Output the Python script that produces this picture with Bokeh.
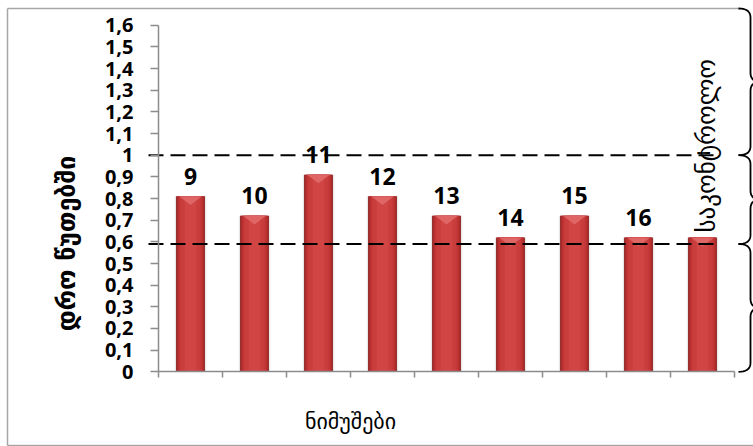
import numpy as np
from bokeh.plotting import figure
from bokeh.models import ColumnDataSource, LinearAxis, FixedTicker, CustomJSTickFormatter, Range1d
from bokeh.core.properties import value
from bokeh.embed import file_html
from bokeh.resources import INLINE

# --- data -----------------------------------------------------------------
samples = ["9", "10", "11", "12", "13", "14", "15", "16", "საკონტროლო"]
times = [0.81, 0.72, 0.91, 0.81, 0.72, 0.62, 0.72, 0.62, 0.62]
upper_limit = 1.0
lower_limit = 0.59
y_ticks = [0.0, 0.1, 0.2, 0.3, 0.4, 0.5, 0.6, 0.7, 0.8, 0.9, 1.0,
           1.1, 1.2, 1.3, 1.4, 1.5, 1.6]
y_label = "დრო წუთებში"
x_label = "ნიმუშები"

# --- page geometry (pixels) -------------------------------------------------
W, H = 753, 446
X0 = 158.0      # pixel column of the value axis
CAT_W = 64.0    # pixels per category slot
Y0 = 371.3      # pixel row of the zero line
UNIT = 216.6    # pixels per 1.0 on the value axis


def px_x(px):
    return (np.asarray(px, dtype=float) - X0) / CAT_W


def px_y(py):
    return (Y0 - np.asarray(py, dtype=float)) / UNIT


n = len(samples)
centers = np.arange(n) + 0.5

p = figure(width=W, height=H, output_backend="svg", toolbar_location=None,
           x_axis_type=None, y_axis_type=None,
           x_range=Range1d(float(px_x(0)), float(px_x(W))),
           y_range=Range1d(float(px_y(H)), float(px_y(0))),
           min_border=0)
p.outline_line_color = None
p.background_fill_color = "white"
p.border_fill_color = "white"
p.xgrid.visible = False
p.ygrid.visible = False

# outer chart frame (thin gray)
p.multi_line(xs=[px_x([7, 7]).tolist(),
                 px_x([7, 739]).tolist(),
                 px_x([7, W]).tolist()],
             ys=[px_y([8, H - 1]).tolist(),
                 px_y([8, 8]).tolist(),
                 px_y([H - 1, H - 1]).tolist()],
             line_color="#A6A6A6", line_width=1.5)

# bars: stacked strips give a rounded, cylindrical shading
src = ColumnDataSource(dict(x=centers, top=times))
p.vbar(x="x", top="top", bottom=0, width=0.49, source=src,
       fill_color="#D0D0D0", line_color=None, fill_alpha=0.5)
shades = [(0.45, "#8F1F1F"), (0.42, "#AD2B2B"), (0.38, "#C03636"),
          (0.31, "#CA3D3D"), (0.18, "#D14545")]
for w, c in shades:
    p.vbar(x="x", top="top", bottom=0, width=w, source=src,
           fill_color=c, line_color=None)
# lighter bevel at the top of each bar
tx = [[c - 0.18, c + 0.18, c] for c in centers]
ty = [[t, t, t - 0.04] for t in times]
p.patches(xs=tx, ys=ty, fill_color="#E47070", line_color=None, fill_alpha=0.75)

# limit lines
limits = [upper_limit, lower_limit]
p.segment(x0=[float(px_x(148))] * 2, x1=[float(px_x(717))] * 2,
          y0=limits, y1=limits, line_color="black", line_width=2,
          line_dash="15 7")

# axes drawn at the data origin
yax = LinearAxis(fixed_location=0, bounds=(0, y_ticks[-1]),
                 ticker=FixedTicker(ticks=y_ticks),
                 formatter=CustomJSTickFormatter(
                     code="return (Math.round(tick*10)/10).toString().replace('.', ',')"),
                 major_tick_out=8, major_tick_in=0,
                 minor_tick_out=0, minor_tick_in=0,
                 major_label_standoff=17,
                 axis_line_color="#8C8C8C", axis_line_width=1.5,
                 major_tick_line_color="#8C8C8C", major_tick_line_width=1.5,
                 major_label_text_font="Open Sans",
                 major_label_text_font_style="bold",
                 major_label_text_font_size="20px",
                 major_label_text_color="black")
p.add_layout(yax, "left")

xax = LinearAxis(fixed_location=0, bounds=(0, n),
                 ticker=FixedTicker(ticks=list(range(n + 1))),
                 formatter=CustomJSTickFormatter(code="return ''"),
                 major_tick_out=6, major_tick_in=0,
                 minor_tick_out=0, minor_tick_in=0,
                 axis_line_color="#8C8C8C", axis_line_width=1.5,
                 major_tick_line_color="#8C8C8C", major_tick_line_width=1.5)
p.add_layout(xax, "below")

# sample names above the bars
p.text(x=centers[:-1], y=times[:-1], text=samples[:-1],
       text_align="center", text_baseline="alphabetic", y_offset=-20,
       text_font=value("Open Sans"), text_font_style="bold",
       text_font_size="23px", text_color="black")
# control sample written upright along its bar
p.text(x=[centers[-1]], y=[times[-1]], text=[samples[-1]], angle=np.pi / 2,
       text_align="left", text_baseline="middle", y_offset=-5, x_offset=4,
       text_font=value("DejaVu Sans"), text_font_size="25px",
       text_color="black")

# axis titles
p.text(x=[float(px_x(66))], y=[float(px_y(243))], text=[y_label],
       angle=np.pi / 2, text_align="center", text_baseline="middle",
       text_font=value("DejaVu Sans"), text_font_style="bold",
       text_font_size="25px", text_color="black")
p.text(x=[float(px_x(350))], y=[float(px_y(421))], text=[x_label],
       text_align="center", text_baseline="middle",
       text_font=value("DejaVu Sans"), text_font_size="22px",
       text_color="black")


# curly braces marking the three zones on the right
def brace(y_top, y_bot, xl=738.0, xv=750.0, xt=760.0, r=9.0):
    t = np.linspace(0, 1, 10)

    def quad(a, c, b):
        a, c, b = map(np.asarray, (a, c, b))
        return ((1 - t)[:, None] ** 2 * a + 2 * ((1 - t) * t)[:, None] * c
                + (t ** 2)[:, None] * b)

    ym = (y_top + y_bot) / 2
    pts = np.vstack([
        quad((xl, y_top), (xv, y_top), (xv, y_top + r)),
        quad((xv, ym - r), (xv, ym), (xt, ym)),
        quad((xt, ym), (xv, ym), (xv, ym + r)),
        quad((xv, y_bot - r), (xv, y_bot), (xl, y_bot)),
    ])
    return px_x(pts[:, 0]).tolist(), px_y(pts[:, 1]).tolist()


zone_edges_px = [8.0, float(Y0 - upper_limit * UNIT),
                 float(Y0 - lower_limit * UNIT), Y0]
bx, by = [], []
for a, b in zip(zone_edges_px[:-1], zone_edges_px[1:]):
    xs_, ys_ = brace(a, b)
    bx.append(xs_)
    by.append(ys_)
p.multi_line(xs=bx, ys=by, line_color="black", line_width=1.8)

open("out.html", "w").write(file_html(p, INLINE))
